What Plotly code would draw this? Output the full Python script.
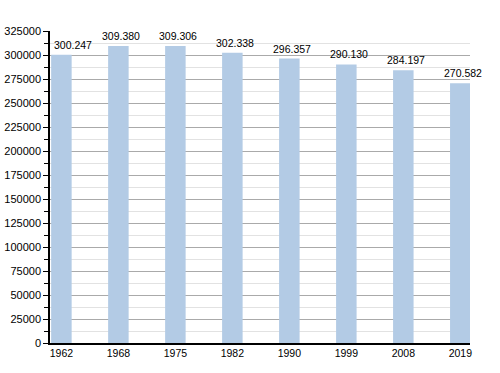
import plotly.graph_objects as go

years = ["1962", "1968", "1975", "1982", "1990", "1999", "2008", "2019"]
population = [300247, 309380, 309306, 302338, 296357, 290130, 284197, 270582]
y_ticks = list(range(0, 325001, 25000))

x_pos = list(range(len(years)))

fig = go.Figure()
fig.add_trace(go.Bar(
    x=x_pos, y=population, width=0.36,
    marker=dict(color="#b3cbe5", line=dict(width=0)),
    hoverinfo="skip",
))

for i, (xp, v) in enumerate(zip(x_pos, population)):
    label = f"{v:,}".replace(",", ".")
    fig.add_annotation(
        x=xp, y=v, text=label, showarrow=False,
        xanchor="center", yanchor="bottom",
        xshift=12 if i == 0 else 3, yshift=2,
        font=dict(family="Liberation Sans, Arial", size=10.5, color="#000"),
    )

fig.update_layout(
    width=500, height=373,
    margin=dict(l=50, r=30, t=31, b=30),
    paper_bgcolor="white", plot_bgcolor="white",
    showlegend=False,
    font=dict(family="Liberation Sans, Arial", size=11, color="#000"),
    xaxis=dict(
        tickmode="array", tickvals=x_pos, ticktext=years,
        range=[-0.2, 7.17], showgrid=False, zeroline=False,
        showline=True, linecolor="#000", linewidth=1.5,
        ticks="", tickfont=dict(size=10.5), automargin=False,
    ),
    yaxis=dict(
        range=[0, 325000], tickmode="array", tickvals=y_ticks,
        ticktext=[str(v) for v in y_ticks],
        showgrid=True, gridcolor="#aaaaaa", gridwidth=1,
        zeroline=False, showline=True, linecolor="#000", linewidth=1.5,
        ticks="outside", ticklen=5, tickcolor="#000",
        tickfont=dict(size=11), automargin=False,
        minor=dict(dtick=12500, tick0=0, showgrid=True, gridcolor="#e2e2e2",
                   ticks="outside", ticklen=4, tickcolor="#000"),
    ),
)

fig.write_html(
    "out.html",
    config={"displayModeBar": False},
    post_script="document.body.style.margin='0';document.body.style.overflow='hidden';",
)
